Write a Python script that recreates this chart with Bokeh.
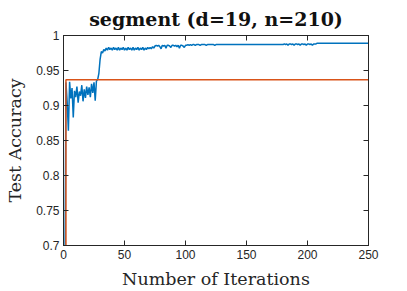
from bokeh.plotting import figure
from bokeh.models import Range1d, LinearAxis, FixedTicker
from bokeh.embed import file_html
from bokeh.resources import INLINE

iterations = list(range(1, 251))
test_acc = [
    0.600, 0.933, 0.905, 0.864, 0.934, 0.910, 0.925, 0.883, 0.921, 0.912,
    0.927, 0.904, 0.920, 0.914, 0.929, 0.906, 0.923, 0.911, 0.927, 0.915,
    0.926, 0.912, 0.931, 0.918, 0.933, 0.907, 0.935, 0.937, 0.946, 0.966,
    0.977, 0.975, 0.980, 0.978, 0.982, 0.979, 0.983, 0.980, 0.982, 0.979,
    0.983, 0.980, 0.982, 0.979, 0.983, 0.979, 0.982, 0.980, 0.983, 0.979,
    0.982, 0.979, 0.983, 0.980, 0.982, 0.979, 0.983, 0.979, 0.982, 0.980,
    0.983, 0.979, 0.982, 0.980, 0.983, 0.979, 0.982, 0.980, 0.983, 0.981,
    0.983, 0.981, 0.984, 0.982, 0.985, 0.986, 0.985, 0.986, 0.984, 0.981,
    0.986, 0.985, 0.986, 0.982, 0.986, 0.986, 0.985, 0.983, 0.986, 0.986,
    0.985, 0.986, 0.984, 0.986, 0.982, 0.986, 0.986, 0.985, 0.983, 0.986,
    0.986, 0.987, 0.986, 0.987, 0.986, 0.987, 0.987, 0.986, 0.987, 0.987,
    0.987, 0.986, 0.987, 0.987, 0.987, 0.987, 0.986, 0.987, 0.987, 0.987,
    0.987, 0.987, 0.987, 0.986, 0.987, 0.987, 0.987, 0.987, 0.987, 0.987,
    0.987, 0.987, 0.987, 0.987, 0.987, 0.987, 0.987, 0.987, 0.987, 0.987,
    0.987, 0.987, 0.987, 0.987, 0.987, 0.987, 0.987, 0.987, 0.987, 0.987,
    0.987, 0.987, 0.987, 0.987, 0.987, 0.987, 0.987, 0.987, 0.987, 0.987,
    0.987, 0.987, 0.987, 0.987, 0.987, 0.987, 0.987, 0.987, 0.987, 0.987,
    0.987, 0.987, 0.987, 0.987, 0.987, 0.987, 0.987, 0.987, 0.987, 0.987,
    0.988, 0.987, 0.988, 0.986, 0.988, 0.988, 0.987, 0.988, 0.986, 0.988,
    0.988, 0.987, 0.988, 0.986, 0.988, 0.988, 0.987, 0.988, 0.986, 0.988,
    0.988, 0.987, 0.988, 0.986, 0.988, 0.988, 0.988, 0.989, 0.989, 0.989,
    0.989, 0.989, 0.989, 0.989, 0.989, 0.989, 0.989, 0.989, 0.989, 0.989,
    0.989, 0.989, 0.989, 0.989, 0.989, 0.989, 0.989, 0.989, 0.989, 0.989,
    0.989, 0.989, 0.989, 0.989, 0.989, 0.989, 0.989, 0.989, 0.989, 0.989,
    0.989, 0.989, 0.989, 0.989, 0.989, 0.989, 0.989, 0.989, 0.989, 0.989,
]
baseline_x = [2, 2, 250]
baseline_acc = [0.600, 0.9367, 0.9367]

x_ticks = [0, 50, 100, 150, 200, 250]
y_ticks = [0.7, 0.75, 0.8, 0.85, 0.9, 0.95, 1.0]
y_tick_labels = ["0.7", "0.75", "0.8", "0.85", "0.9", "0.95", "1"]

AX = "#262626"

p = figure(width=407, height=291, output_backend="svg", toolbar_location=None,
           x_range=Range1d(0, 250), y_range=Range1d(0.7, 1.0),
           min_border_left=63, min_border_right=39, min_border_top=30, min_border_bottom=43)
p.xgrid.visible = False
p.ygrid.visible = False
p.outline_line_color = AX
p.outline_line_width = 1
p.background_fill_color = "white"
p.border_fill_color = "white"

p.title.text = "segment (d=19, n=210)"
p.title.align = "center"
p.title.text_font = "DejaVu Serif"
p.title.text_font_size = "19px"
p.title.text_font_style = "bold"
p.title.text_color = "#111111"
p.title.offset = 0
p.title.standoff = 11

for ax in [p.xaxis[0], p.yaxis[0]]:
    ax.axis_line_color = AX
    ax.major_tick_line_color = AX
    ax.major_tick_in = 5
    ax.major_tick_out = 0
    ax.minor_tick_line_color = None
    ax.major_label_text_font = "Liberation Sans"
    ax.major_label_text_font_size = "12px"
    ax.major_label_text_color = AX
    ax.axis_label_text_font = "DejaVu Serif"
    ax.axis_label_text_font_size = "17.5px"
    ax.axis_label_text_font_style = "normal"
    ax.axis_label_text_color = AX

p.xaxis[0].ticker = FixedTicker(ticks=x_ticks)
p.yaxis[0].ticker = FixedTicker(ticks=y_ticks)
p.yaxis[0].major_label_overrides = {t: s for t, s in zip(y_ticks, y_tick_labels)}
p.xaxis[0].axis_label = "Number of Iterations"
p.yaxis[0].axis_label = "Test Accuracy"
p.xaxis[0].major_label_standoff = 4
p.xaxis[0].axis_label_standoff = 7
p.yaxis[0].major_label_standoff = 4
p.yaxis[0].axis_label_standoff = 8

top = LinearAxis(ticker=FixedTicker(ticks=x_ticks), major_label_text_font_size="1px",
                 major_label_text_color=None,
                 major_tick_in=5, major_tick_out=0, minor_tick_line_color=None,
                 axis_line_color=AX, major_tick_line_color=AX, major_label_standoff=0)
right = LinearAxis(ticker=FixedTicker(ticks=y_ticks), major_label_text_font_size="1px",
                   major_label_text_color=None,
                   major_tick_in=5, major_tick_out=0, minor_tick_line_color=None,
                   axis_line_color=AX, major_tick_line_color=AX, major_label_standoff=0)
p.add_layout(top, "above")
p.add_layout(right, "right")

p.line(iterations, test_acc, line_color="#0072BD", line_width=1.5)
p.line(baseline_x, baseline_acc, line_color="#D95319", line_width=1.5)

open("out.html", "w").write(file_html(p, INLINE))
